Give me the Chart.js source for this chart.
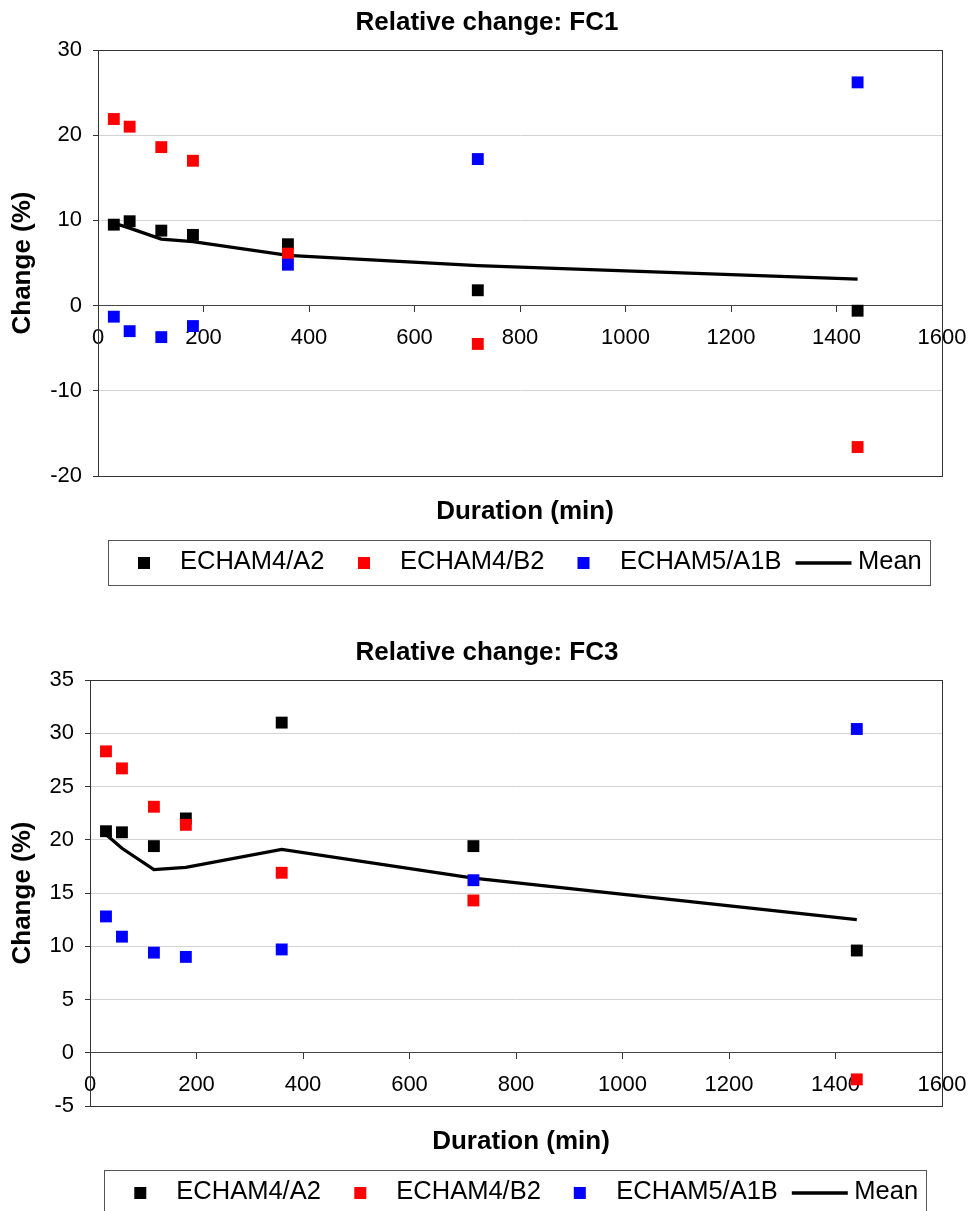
<!DOCTYPE html>
<html>
<head>
<meta charset="utf-8">
<title>Relative change: FC1 / FC3</title>
<script src="https://cdn.jsdelivr.net/npm/chart.js@4.4.1/dist/chart.umd.min.js"></script>
<style>
  html, body { margin: 0; padding: 0; background: #ffffff; width: 970px; height: 1211px; overflow: hidden; }
  .panel { position: absolute; left: 0; width: 970px; height: 630px; }
  canvas { display: block; }
</style>
</head>
<body>
<div class="panel" style="top:0"><canvas id="fc1" width="970" height="630"></canvas></div>
<div class="panel" style="top:630px"><canvas id="fc3" width="970" height="630"></canvas></div>
<script>
// Rain durations (minutes)
const durations = [30, 60, 120, 180, 360, 720, 1440];

// Series names and colours
const seriesNames = ['ECHAM4/A2', 'ECHAM4/B2', 'ECHAM5/A1B', 'Mean'];
const seriesColors = ['#000000', '#ff0000', '#0000ff', '#000000'];

// Relative change (%) for FC1
const fc1A2   = [9.5, 9.9, 8.8, 8.3, 7.2, 1.8, -0.6];
const fc1B2   = [21.9, 21.0, 18.6, 17.0, 6.1, -4.5, -16.6];
const fc1A1B  = [-1.3, -3.0, -3.7, -2.4, 4.8, 17.2, 26.2];
const fc1Mean = [9.7, 9.1, 7.8, 7.5, 5.9, 4.7, 3.1];

// Relative change (%) for FC3
const fc3A2   = [20.8, 20.7, 19.4, 22.0, 31.0, 19.4, 9.6];
const fc3B2   = [28.3, 26.7, 23.1, 21.4, 16.9, 14.3, -2.5];
const fc3A1B  = [12.8, 10.9, 9.4, 9.0, 9.7, 16.2, 30.4];
const fc3Mean = [20.5, 19.2, 17.2, 17.4, 19.1, 16.4, 12.5];

// Axis ranges and tick steps
const xRange = { min: 0, max: 1600, step: 200 };
const fc1YRange = { min: -20, max: 30, step: 10 };
const fc3YRange = { min: -5, max: 35, step: 5 };

const titles = ['Relative change: FC1', 'Relative change: FC3'];
const xAxisTitle = 'Duration (min)';
const yAxisTitle = 'Change (%)';

const FONT = "'Liberation Sans', Arial, Helvetica, sans-serif";
Chart.defaults.font.family = FONT;
Chart.defaults.color = '#000000';

// Title, frame, x-axis caption and boxed legend
const panelDecor = {
  id: 'panelDecor',
  beforeDatasetsDraw(chart) {
    const { ctx, chartArea: a } = chart;
    ctx.save();
    ctx.strokeStyle = '#333333';
    ctx.lineWidth = 1;
    ctx.strokeRect(Math.round(a.left) + 0.5, Math.round(a.top) + 0.5,
                   Math.round(a.right - a.left), Math.round(a.bottom - a.top));
    ctx.restore();
  },
  afterDraw(chart, args, opts) {
    const { ctx, chartArea: a } = chart;
    ctx.save();
    ctx.fillStyle = '#000000';
    ctx.font = 'bold 26px ' + FONT;
    ctx.textAlign = 'center';
    ctx.textBaseline = 'alphabetic';
    ctx.fillText(opts.title, 487, 30);
    ctx.fillText(xAxisTitle, (a.left + a.right) / 2 + 5, a.bottom + 43);

    // legend box
    const L = opts.legendLeft, T = 540, W = 822, H = 45;
    ctx.strokeStyle = '#555555';
    ctx.lineWidth = 1;
    ctx.strokeRect(Math.round(L) + 0.5, T + 0.5, W, H);

    const cy = 563;
    const markerX = [36, 256, 475.5];
    const textX = [72, 292, 512, 750];
    ctx.font = '25.5px ' + FONT;
    ctx.textAlign = 'left';
    for (let i = 0; i < 3; i++) {
      ctx.fillStyle = seriesColors[i];
      ctx.fillRect(L + markerX[i] - 6, cy - 6, 12, 12);
      ctx.fillStyle = '#000000';
      ctx.fillText(seriesNames[i], L + textX[i], 569);
    }
    ctx.strokeStyle = seriesColors[3];
    ctx.lineWidth = 3.5;
    ctx.beginPath();
    ctx.moveTo(L + 687.5, cy);
    ctx.lineTo(L + 743.5, cy);
    ctx.stroke();
    ctx.fillStyle = '#000000';
    ctx.fillText(seriesNames[3], L + textX[3], 569);
    ctx.restore();
  }
};

function toPoints(values) {
  return values.map((v, i) => ({ x: durations[i], y: v }));
}

function makeChart(id, title, a2, b2, a1b, mean, yRange, yAxisWidth, legendLeft) {
  const markerDs = (idx, values, order) => ({
    type: 'scatter',
    label: seriesNames[idx],
    data: toPoints(values),
    pointStyle: 'rect',
    pointRadius: 8.4,
    pointHoverRadius: 8.4,
    pointBackgroundColor: seriesColors[idx],
    pointBorderWidth: 0,
    borderColor: seriesColors[idx],
    backgroundColor: seriesColors[idx],
    showLine: false,
    order: order
  });
  return new Chart(document.getElementById(id), {
    type: 'scatter',
    data: {
      datasets: [
        markerDs(0, a2, 3),
        markerDs(1, b2, 2),
        markerDs(2, a1b, 1),
        {
          type: 'line',
          label: seriesNames[3],
          data: toPoints(mean),
          borderColor: seriesColors[3],
          borderWidth: 3.3,
          pointRadius: 0,
          pointHoverRadius: 0,
          tension: 0,
          fill: false,
          order: 4
        }
      ]
    },
    options: {
      responsive: false,
      devicePixelRatio: 1,
      animation: false,
      events: [],
      layout: { padding: { top: 50, right: 28, bottom: 154, left: 0 } },
      plugins: {
        legend: { display: false },
        tooltip: { enabled: false },
        title: { display: false },
        panelDecor: { title: title, legendLeft: legendLeft }
      },
      scales: {
        x: {
          type: 'linear',
          position: { y: 0 },
          min: xRange.min,
          max: xRange.max,
          afterFit: s => { s.paddingRight = 20; s.paddingLeft = 10; },
          grid: { drawOnChartArea: false, drawTicks: true, tickLength: 6, tickColor: '#333333' },
          border: { display: true, color: '#444444', width: 1 },
          ticks: {
            stepSize: xRange.step,
            autoSkip: false,
            maxRotation: 0,
            padding: 13,
            color: '#000000',
            font: { size: 22 },
            callback: v => String(v)
          }
        },
        y: {
          type: 'linear',
          position: 'left',
          min: yRange.min,
          max: yRange.max,
          afterFit: s => { s.width = yAxisWidth; },
          grid: {
            color: c => (c.tick && c.tick.value === 0) ? '#444444' : '#d4d4d4',
            lineWidth: 1,
            drawTicks: true,
            tickLength: 5,
            tickColor: '#333333'
          },
          border: { display: true, color: '#222222', width: 1 },
          ticks: {
            stepSize: yRange.step,
            padding: 11,
            color: '#000000',
            font: { size: 22 },
            callback: v => String(v)
          },
          title: {
            display: true,
            text: yAxisTitle,
            color: '#000000',
            font: { size: 26, weight: 'bold' },
            padding: { top: 7, bottom: 0 }
          }
        }
      }
    },
    plugins: [panelDecor]
  });
}

makeChart('fc1', titles[0], fc1A2, fc1B2, fc1A1B, fc1Mean, fc1YRange, 98, 108);
makeChart('fc3', titles[1], fc3A2, fc3B2, fc3A1B, fc3Mean, fc3YRange, 90, 104.3);
</script>
</body>
</html>
